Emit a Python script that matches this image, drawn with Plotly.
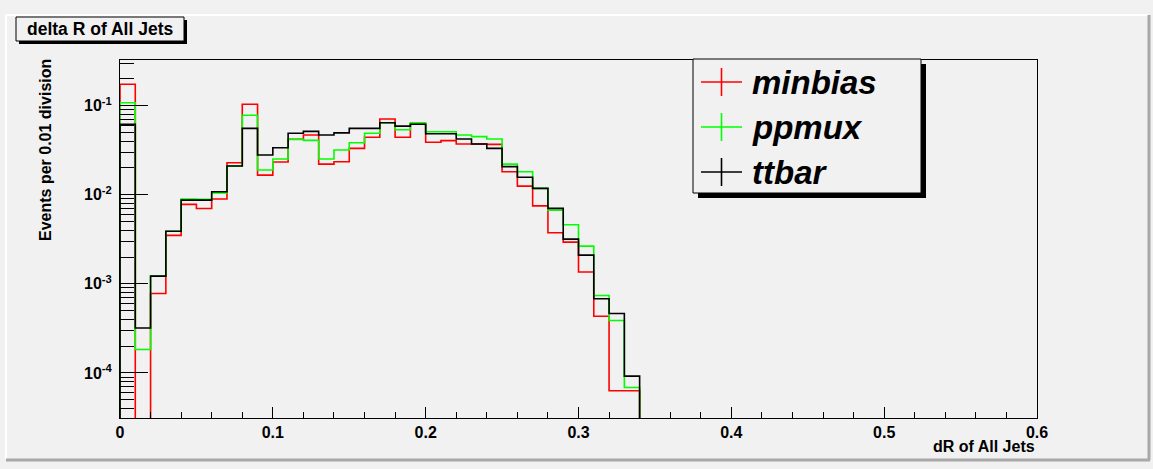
import plotly.graph_objects as go

# ---------------- data ----------------
bin_width = 0.01
series_names = ["minbias", "ppmux", "ttbar"]
series_colors = ["#ff0000", "#00ff00", "#000000"]

minbias = [0.174, 0.0, 7.8e-4, 3.5e-3, 7.8e-3, 7.0e-3, 8.95e-3, 0.0229, 0.104, 0.0166,
           0.0233, 0.042, 0.0469, 0.0221, 0.0235, 0.0332, 0.0442, 0.071, 0.0442, 0.062,
           0.0388, 0.0405, 0.0372, 0.0372, 0.0368, 0.0181, 0.0125, 0.0075, 0.00374, 0.00294,
           0.00136, 4.33e-4, 6.3e-5, 6.3e-5]
ppmux = [0.108, 1.83e-4, 1.22e-3, 3.9e-3, 8.95e-3, 8.9e-3, 0.0105, 0.021, 0.078, 0.019,
         0.0252, 0.0419, 0.0408, 0.0252, 0.0318, 0.0384, 0.049, 0.0644, 0.0538, 0.0644,
         0.051, 0.051, 0.0469, 0.0449, 0.0423, 0.0221, 0.0181, 0.0118, 0.00673, 0.0046,
         0.00265, 7.4e-4, 3.88e-4, 6.85e-5]
ttbar = [0.062, 3.2e-4, 1.22e-3, 3.9e-3, 8.7e-3, 8.7e-3, 0.0108, 0.021, 0.0557, 0.028,
         0.0337, 0.049, 0.0515, 0.0469, 0.0495, 0.0557, 0.0557, 0.0644, 0.059, 0.0618,
         0.0484, 0.0484, 0.0423, 0.0372, 0.0332, 0.0207, 0.0157, 0.0118, 0.00703, 0.00318,
         0.0021, 6.8e-4, 4.64e-4, 9.2e-5]
series_values = [minbias, ppmux, ttbar]

x_tick_vals = [0, 0.1, 0.2, 0.3, 0.4, 0.5, 0.6]
x_tick_text = ["0", "0.1", "0.2", "0.3", "0.4", "0.5", "0.6"]
y_tick_vals = [1e-4, 1e-3, 1e-2, 1e-1]
y_tick_text = ["10<sup>-4</sup>", "10<sup>-3</sup>", "10<sup>-2</sup>", "10<sup>-1</sup>"]

title_text = "delta R of All Jets"
x_title = "dR of All Jets"
y_title = "Events per 0.01 division"

# ---------------- geometry helpers ----------------
W, H = 1153, 469
L, R, T, B = 120, 116, 60, 51
PW, PH = W - L - R, H - T - B
FONT = "Liberation Sans, Arial, Helvetica, sans-serif"
BG = "#f1f1f1"


def px(x):
    return (x - L) / PW


def py(y):
    return (H - B - y) / PH


FLOOR = 1e-8  # empty bins are drawn down past the axis bottom (log scale)

fig = go.Figure()
for name, vals, color in zip(series_names, series_values, series_colors):
    n = len(vals)
    xs = [0.0] + [round(i * bin_width, 4) for i in range(n)] + [round(n * bin_width, 4)]
    ys = [FLOOR] + [v if v > 0 else FLOOR for v in vals] + [FLOOR]
    fig.add_trace(go.Scatter(x=xs, y=ys, mode="lines", line=dict(color=color, width=1.6, shape="hv"),
                             name=name, showlegend=False, hoverinfo="skip"))

# minor log ticks 2..9 x 10^n
y_minor = [d * 10.0 ** e for e in range(-5, 0) for d in range(2, 10)]

fig.update_layout(
    width=W, height=H,
    margin=dict(l=L, r=R, t=T, b=B),
    paper_bgcolor=BG, plot_bgcolor=BG,
    font=dict(family=FONT, color="black"),
    showlegend=False,
    xaxis=dict(range=[0, 0.6], tickmode="array", tickvals=x_tick_vals, ticktext=x_tick_text,
               ticks="inside", ticklen=11, tickwidth=1, tickcolor="black",
               minor=dict(tickmode="linear", tick0=0, dtick=0.02, ticks="inside", ticklen=6,
                          tickcolor="black", showgrid=False),
               showline=True, mirror=True, linecolor="black", linewidth=1,
               showgrid=False, zeroline=False,
               tickfont=dict(family=FONT, size=16, weight="bold", color="black")),
    yaxis=dict(type="log", range=[-4.506, -0.487], tickmode="array", tickvals=y_tick_vals,
               ticktext=y_tick_text, ticks="inside", ticklen=28, tickwidth=1, tickcolor="black",
               minor=dict(tickmode="array", tickvals=y_minor, ticks="inside", ticklen=14,
                          tickcolor="black", showgrid=False),
               showline=True, mirror=True, linecolor="black", linewidth=1,
               showgrid=False, zeroline=False, ticklabelstandoff=4,
               tickfont=dict(family=FONT, size=16, weight="bold", color="black")),
)

shapes = []
annotations = []

# canvas bevel
shapes += [
    dict(type="line", xref="paper", yref="paper", x0=px(6), x1=px(1148), y0=py(15), y1=py(15),
         line=dict(color="white", width=2), layer="below"),
    dict(type="line", xref="paper", yref="paper", x0=px(6), x1=px(6), y0=py(15), y1=py(459),
         line=dict(color="white", width=2), layer="below"),
    dict(type="line", xref="paper", yref="paper", x0=px(1149), x1=px(1149), y0=py(15), y1=py(460),
         line=dict(color="#a8a8a8", width=3), layer="below"),
    dict(type="line", xref="paper", yref="paper", x0=px(6), x1=px(1150), y0=py(460), y1=py(460),
         line=dict(color="#a8a8a8", width=3), layer="below"),
]

# title box with shadow
shapes += [
    dict(type="rect", xref="paper", yref="paper", x0=px(19), x1=px(187), y0=py(20), y1=py(44),
         fillcolor="black", line=dict(width=0), layer="above"),
    dict(type="rect", xref="paper", yref="paper", x0=px(16), x1=px(184), y0=py(17), y1=py(41),
         fillcolor=BG, line=dict(color="black", width=1), layer="above"),
]
annotations.append(dict(xref="paper", yref="paper", x=px(100), y=py(29), text="<b>" + title_text + "</b>",
                        showarrow=False, xanchor="center", yanchor="middle",
                        font=dict(family=FONT, size=17.5, color="black")))

# axis titles
annotations.append(dict(xref="paper", yref="paper", x=1, y=0, yshift=-18, text="<b>" + x_title + "</b>",
                        showarrow=False, xanchor="right", yanchor="top",
                        font=dict(family=FONT, size=16, color="black")))
annotations.append(dict(xref="paper", yref="paper", x=px(46), y=py(57), text="<b>" + y_title + "</b>",
                        showarrow=False, xanchor="center", yanchor="top", textangle=-90,
                        font=dict(family=FONT, size=16, color="black")))

# legend (box with shadow, cross symbols, labels)
lx0, lx1, ly0, ly1 = 693, 921, 59, 193
shapes += [
    dict(type="rect", xref="paper", yref="paper", x0=px(lx0 + 5), x1=px(lx1 + 5), y0=py(ly0 + 5), y1=py(ly1 + 5),
         fillcolor="black", line=dict(width=0), layer="above"),
    dict(type="rect", xref="paper", yref="paper", x0=px(lx0), x1=px(lx1), y0=py(ly0), y1=py(ly1),
         fillcolor=BG, line=dict(color="black", width=1), layer="above"),
]
entry_y = [82, 127, 172]
for name, color, cy in zip(series_names, series_colors, entry_y):
    shapes.append(dict(type="line", xref="paper", yref="paper", x0=px(701), x1=px(742), y0=py(cy), y1=py(cy),
                       line=dict(color=color, width=1.6), layer="above"))
    shapes.append(dict(type="line", xref="paper", yref="paper", x0=px(721.5), x1=px(721.5), y0=py(cy - 14),
                       y1=py(cy + 14), line=dict(color=color, width=1.6), layer="above"))
    annotations.append(dict(xref="paper", yref="paper", x=px(750), y=py(cy), text="<b><i>" + name + "</i></b>",
                            showarrow=False, xanchor="left", yanchor="middle",
                            font=dict(family=FONT, size=33, color="black")))

fig.update_layout(shapes=shapes, annotations=annotations)
fig.write_html("out.html")
